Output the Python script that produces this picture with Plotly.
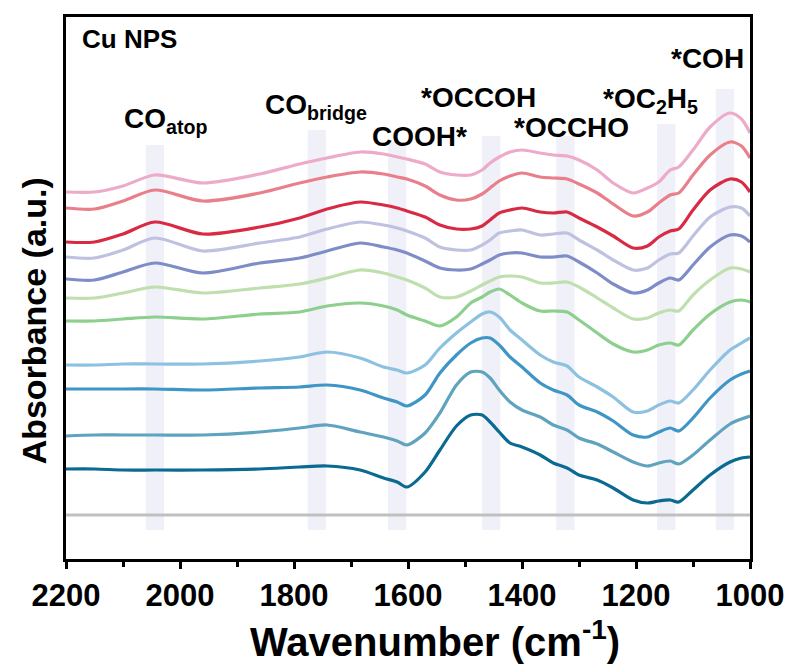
import plotly.graph_objects as go

# Wavenumber grid (cm-1)
wavenumber = [2200, 2150, 2100, 2044, 1960, 1860, 1790, 1742, 1684, 1643, 1619, 1602, 1570, 1544,
              1515, 1490, 1470, 1456, 1440, 1421, 1400, 1368, 1345, 1321, 1300, 1268, 1240, 1205,
              1180, 1160, 1140, 1125, 1100, 1070, 1035, 1015, 1000]

# Absorbance (a.u., offset-stacked spectra), top to bottom
s_pink = [3.67, 3.67, 3.73, 3.84, 3.76, 3.85, 3.95, 4.01, 4.07, 4.05, 4.02, 4.00, 3.95, 3.87,
          3.84, 3.84, 3.89, 3.96, 4.02, 4.07, 4.09, 4.06, 4.04, 4.03, 3.99, 3.89, 3.76, 3.66,
          3.71, 3.77, 3.89, 3.92, 4.09, 4.32, 4.46, 4.40, 4.26]
s_salmon = [3.51, 3.50, 3.58, 3.69, 3.58, 3.66, 3.76, 3.82, 3.87, 3.85, 3.82, 3.80, 3.73, 3.64,
            3.59, 3.60, 3.65, 3.71, 3.78, 3.83, 3.86, 3.82, 3.81, 3.80, 3.75, 3.66, 3.55, 3.43,
            3.47, 3.56, 3.64, 3.66, 3.84, 4.04, 4.17, 4.13, 4.01]
s_red = [3.17, 3.17, 3.25, 3.37, 3.25, 3.32, 3.41, 3.50, 3.57, 3.54, 3.51, 3.48, 3.42, 3.34,
         3.30, 3.30, 3.33, 3.39, 3.46, 3.49, 3.51, 3.47, 3.46, 3.47, 3.41, 3.32, 3.23, 3.11,
         3.13, 3.22, 3.28, 3.30, 3.49, 3.69, 3.80, 3.77, 3.67]
s_lavender = [3.02, 3.01, 3.09, 3.21, 3.08, 3.16, 3.22, 3.30, 3.37, 3.34, 3.31, 3.28, 3.21, 3.12,
              3.09, 3.09, 3.14, 3.19, 3.26, 3.28, 3.29, 3.24, 3.25, 3.26, 3.19, 3.09, 2.99, 2.89,
              2.91, 2.99, 3.05, 3.06, 3.23, 3.42, 3.52, 3.51, 3.43]
s_periwinkle = [2.80, 2.79, 2.87, 2.96, 2.86, 2.96, 3.01, 3.08, 3.16, 3.12, 3.09, 3.06, 2.98, 2.91,
                2.89, 2.90, 2.95, 2.99, 3.04, 3.06, 3.06, 3.02, 3.02, 3.03, 2.97, 2.86, 2.75, 2.66,
                2.69, 2.76, 2.81, 2.79, 2.94, 3.12, 3.24, 3.23, 3.17]
s_lightgreen = [2.61, 2.61, 2.66, 2.72, 2.66, 2.71, 2.75, 2.81, 2.89, 2.86, 2.82, 2.79, 2.71, 2.62,
                2.62, 2.68, 2.74, 2.78, 2.82, 2.83, 2.82, 2.76, 2.76, 2.77, 2.72, 2.61, 2.51, 2.40,
                2.41, 2.46, 2.49, 2.48, 2.64, 2.79, 2.91, 2.90, 2.87]
s_green = [2.38, 2.38, 2.40, 2.42, 2.40, 2.45, 2.47, 2.53, 2.56, 2.53, 2.49, 2.44, 2.38, 2.33,
           2.42, 2.56, 2.62, 2.67, 2.70, 2.64, 2.56, 2.48, 2.48, 2.47, 2.39, 2.26, 2.15, 2.07,
           2.09, 2.14, 2.16, 2.14, 2.29, 2.45, 2.57, 2.59, 2.57]
s_lightblue = [1.94, 1.94, 1.95, 1.95, 1.95, 1.98, 2.02, 2.07, 2.01, 1.92, 1.89, 1.86, 1.94, 2.11,
               2.26, 2.37, 2.45, 2.47, 2.42, 2.29, 2.19, 2.04, 1.97, 1.93, 1.82, 1.72, 1.62, 1.47,
               1.48, 1.54, 1.58, 1.56, 1.69, 1.89, 2.09, 2.16, 2.21]
s_blue = [1.70, 1.70, 1.70, 1.70, 1.69, 1.71, 1.72, 1.74, 1.69, 1.61, 1.57, 1.53, 1.64, 1.86,
          2.04, 2.16, 2.21, 2.21, 2.14, 2.02, 1.92, 1.76, 1.69, 1.64, 1.54, 1.47, 1.38, 1.24,
          1.22, 1.27, 1.31, 1.28, 1.41, 1.61, 1.79, 1.85, 1.88]
s_teal = [1.23, 1.24, 1.24, 1.24, 1.24, 1.27, 1.31, 1.34, 1.27, 1.22, 1.18, 1.14, 1.26, 1.46,
          1.74, 1.87, 1.87, 1.81, 1.69, 1.57, 1.49, 1.42, 1.34, 1.29, 1.21, 1.15, 1.07, 0.97,
          0.93, 0.96, 0.98, 0.95, 1.04, 1.19, 1.35, 1.40, 1.43]
s_dark = [0.90, 0.90, 0.89, 0.89, 0.89, 0.90, 0.92, 0.93, 0.89, 0.81, 0.77, 0.72, 0.87, 1.09,
          1.33, 1.44, 1.44, 1.37, 1.27, 1.16, 1.12, 1.04, 0.96, 0.91, 0.84, 0.79, 0.71, 0.59,
          0.56, 0.58, 0.59, 0.57, 0.69, 0.84, 0.97, 1.01, 1.02]
s_base = [0.44] * len(wavenumber)

series = [s_pink, s_salmon, s_red, s_lavender, s_periwinkle, s_lightgreen, s_green,
          s_lightblue, s_blue, s_teal, s_dark, s_base]
colors = ["#edaac9", "#e97f8a", "#d92a44", "#bfc1e1", "#7e8cc7", "#bfdfae", "#8dcf8d",
          "#8dc1e1", "#3f96c6", "#5fa3be", "#0b6a91", "#c0c0c0"]

# Highlighted band centres (cm-1), band half-width, band top (a.u.)
band_centers = [2044, 1760, 1619, 1454, 1324, 1147, 1044]
band_tops = [4.14, 4.29, 4.17, 4.23, 4.23, 4.35, 4.70]
band_half = 16
band_bottom = 0.29

# Labels: text, x (cm-1), y (a.u.)
labels = [
    ("CO<sub>atop</sub>", 2026, 4.39),
    ("CO<sub>bridge</sub>", 1761, 4.53),
    ("COOH*", 1579, 4.23),
    ("*OCCOH", 1477, 4.62),
    ("*OCCHO", 1314, 4.32),
    ("*OC<sub>2</sub>H<sub>5</sub>", 1174, 4.59),
    ("*COH", 1074, 5.01),
]

FONT = "Liberation Sans, Arial, sans-serif"

fig = go.Figure()
for ys, c in zip(series, colors):
    fig.add_trace(go.Scatter(x=wavenumber, y=ys, mode="lines",
                             line=dict(color=c, width=3.2, shape="spline", smoothing=0.8),
                             showlegend=False, hoverinfo="skip"))

for c, t in zip(band_centers, band_tops):
    fig.add_shape(type="rect", x0=c - band_half, x1=c + band_half, y0=band_bottom, y1=t,
                  xref="x", yref="y", fillcolor="#f0f0f9", line=dict(width=0), layer="below")

for txt, x, y in labels:
    fig.add_annotation(x=x, y=y, text="<b>" + txt + "</b>", showarrow=False,
                       xanchor="center", yanchor="middle",
                       font=dict(family=FONT, size=28, color="black"))

fig.add_annotation(x=0.02, y=0.99, xref="paper", yref="paper", text="<b>Cu NPS</b>",
                   showarrow=False, xanchor="left", yanchor="top",
                   font=dict(family=FONT, size=26, color="black"))

# Axis titles
fig.add_annotation(x=0.5395, y=-0.197, xref="paper", yref="paper",
                   text="<b>Wavenumber (cm<sup>-1</sup>)</b>", showarrow=False,
                   xanchor="center", yanchor="bottom",
                   font=dict(family=FONT, size=40, color="black"))
fig.add_annotation(x=-0.047, y=0.44, xref="paper", yref="paper",
                   text="<b>Absorbance (a.u.)</b>", showarrow=False, textangle=-90,
                   xanchor="center", yanchor="middle",
                   font=dict(family=FONT, size=34, color="black"))

fig.update_layout(
    width=798, height=666,
    margin=dict(l=66, r=48, t=17, b=107),
    plot_bgcolor="white", paper_bgcolor="white",
    font=dict(family=FONT, color="black"),
    xaxis=dict(range=[2200, 1000], tickmode="linear", tick0=1000, dtick=200,
               ticks="outside", ticklen=7, tickwidth=2.5, tickcolor="black",
               minor=dict(ticks="outside", ticklen=5, tickwidth=2.5, dtick=100, tickcolor="black"),
               showline=True, linewidth=2.5, linecolor="black", mirror=True,
               showgrid=False, zeroline=False,
               tickprefix="<b>", ticksuffix="</b>", ticklabelstandoff=0,
               tickfont=dict(family=FONT, size=31, color="black")),
    yaxis=dict(range=[0, 5.42], showticklabels=False, ticks="",
               showline=True, linewidth=2.5, linecolor="black", mirror=True,
               showgrid=False, zeroline=False),
)

fig.write_html("out.html")
